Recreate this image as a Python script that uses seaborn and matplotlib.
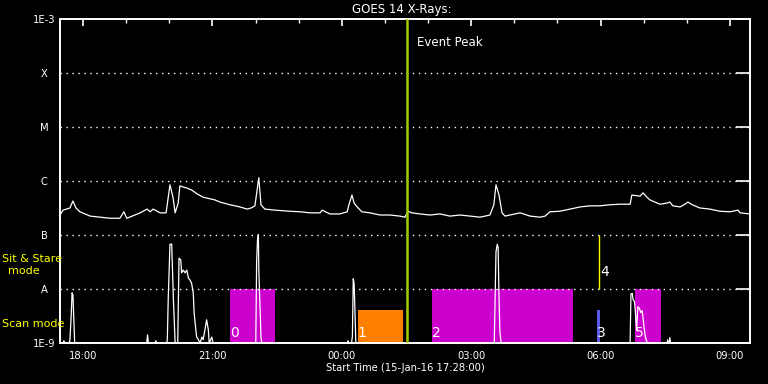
import numpy as np
import pandas as pd
import matplotlib
matplotlib.use("Agg")
import matplotlib.pyplot as plt
import matplotlib.dates as mdates
from matplotlib.ticker import NullLocator
import seaborn as sns

# ---------------- data ----------------
start_time = "2016-01-15 17:28:00"
span_hours = 16.0

# long-wavelength channel (hours since start, log10 flux W/m^2)
long_t = [0.00, 0.07, 0.23, 0.30, 0.37, 0.46, 0.70, 0.93, 1.16, 1.39, 1.48, 1.55,
          1.86, 2.02, 2.09, 2.16, 2.32, 2.46, 2.55, 2.62, 2.67, 2.74, 2.78, 2.85,
          2.94, 3.06, 3.18, 3.32, 3.48, 3.59, 3.71, 3.94, 4.17, 4.34, 4.43, 4.52,
          4.57, 4.61, 4.66, 4.75, 4.99, 5.33, 5.57, 5.80, 6.03, 6.08, 6.26, 6.49,
          6.66, 6.70, 6.77, 6.82, 6.89, 7.00, 7.19, 7.42, 7.65, 7.88, 8.00, 8.07,
          8.16, 8.35, 8.58, 8.81, 9.04, 9.28, 9.51, 9.74, 9.97, 10.06, 10.11, 10.18,
          10.25, 10.32, 10.43, 10.67, 10.90, 11.13, 11.25, 11.36, 11.59, 11.83, 12.06,
          12.29, 12.52, 12.75, 12.99, 13.22, 13.26, 13.45, 13.52, 13.61, 13.68, 13.91,
          14.07, 14.14, 14.21, 14.38, 14.49, 14.56, 14.66, 14.84, 15.07, 15.30, 15.54,
          15.72, 15.77, 16.00]
long_lg = [-6.63, -6.54, -6.50, -6.37, -6.50, -6.57, -6.65, -6.67, -6.69, -6.69, -6.57, -6.69,
           -6.59, -6.52, -6.57, -6.52, -6.59, -6.59, -6.07, -6.30, -6.59, -6.41, -6.09, -6.11,
           -6.13, -6.17, -6.24, -6.30, -6.33, -6.35, -6.39, -6.44, -6.48, -6.52, -6.50, -6.46,
           -6.17, -5.94, -6.44, -6.52, -6.54, -6.56, -6.57, -6.59, -6.59, -6.54, -6.61, -6.61,
           -6.57, -6.44, -6.26, -6.41, -6.48, -6.57, -6.59, -6.63, -6.63, -6.65, -6.67, -6.56,
           -6.59, -6.61, -6.63, -6.61, -6.65, -6.63, -6.65, -6.67, -6.63, -6.44, -6.07, -6.26,
           -6.59, -6.65, -6.63, -6.59, -6.65, -6.67, -6.65, -6.57, -6.56, -6.52, -6.48,
           -6.46, -6.46, -6.44, -6.43, -6.43, -6.26, -6.28, -6.22, -6.30, -6.35, -6.43,
           -6.41, -6.39, -6.46, -6.48, -6.43, -6.39, -6.44, -6.50, -6.52, -6.56, -6.57,
           -6.54, -6.59, -6.61]

# short-wavelength channel
short_t = [0.00, 0.08, 0.09, 0.10, 0.22, 0.23, 0.26, 0.28, 0.30, 0.32, 0.34,
           2.01, 2.03, 2.05, 2.21, 2.22, 2.23, 2.48, 2.49, 2.51, 2.55, 2.59, 2.63, 2.67,
           2.73, 2.76, 2.80, 2.82, 2.86, 2.90, 2.94, 2.98, 3.01, 3.05, 3.09, 3.11, 3.15,
           3.17, 3.21, 3.25, 3.29, 3.32, 3.36, 3.40, 3.44, 3.46, 3.52, 3.55,
           4.54, 4.56, 4.58, 4.60, 4.61, 4.64, 4.66, 4.68,
           6.67, 6.68, 6.69, 6.76, 6.78, 6.80, 6.82, 6.84, 6.86,
           10.07, 10.11, 10.14, 10.16, 10.18, 10.20, 10.23,
           13.22, 13.24, 13.27, 13.29, 13.32, 13.33, 13.35, 13.37, 13.40, 13.43, 13.47,
           13.50, 13.53, 13.55, 13.58, 13.62,
           14.08, 14.09, 14.11, 14.13, 14.14, 14.16, 16.00]
short_lg = [-9.00, -9.00, -8.96, -9.00, -9.00, -8.94, -8.48, -8.07, -8.11, -8.55, -9.00,
            -9.00, -8.85, -9.00, -9.00, -8.96, -9.00, -9.00, -8.89, -8.17, -7.17, -7.17, -8.20, -9.00,
            -9.00, -7.43, -7.46, -7.70, -7.65, -7.70, -7.65, -7.80, -7.83, -7.89, -8.07, -8.44, -8.76,
            -8.89, -8.94, -9.00, -8.89, -8.94, -8.76, -8.57, -8.76, -9.00, -8.89, -9.00,
            -9.00, -7.48, -7.09, -6.99, -7.65, -8.39, -8.89, -9.00,
            -9.00, -8.96, -9.00, -9.00, -8.88, -7.81, -7.90, -8.42, -9.00,
            -9.00, -7.31, -7.17, -7.24, -8.17, -8.79, -9.00,
            -9.00, -8.09, -8.08, -8.20, -8.23, -8.30, -8.51, -8.76, -8.33, -8.35, -8.44,
            -8.40, -8.61, -8.76, -8.91, -9.00,
            -9.00, -8.94, -9.00, -9.00, -8.90, -9.00, -9.00]

# observation boxes (hours since start, top flux)
box_labels = ["0", "1", "2", "3", "5"]
box_start = [3.94, 6.90, 8.63, 12.45, 13.33]
box_end = [4.99, 7.95, 11.89, 12.52, 13.93]
box_top = [1e-8, 4.1e-9, 1e-8, 4.1e-9, 1e-8]
box_colors = ["#cc00cc", "#ff8000", "#cc00cc", "#5a5ae6", "#cc00cc"]

sitstare_label = "4"
sitstare_t = 12.51
sitstare_range = [1e-8, 1e-7]

event_peak_t = 8.05

ytick_vals = [1e-9, 1e-8, 1e-7, 1e-6, 1e-5, 1e-4, 1e-3]
ytick_labels = ["1E-9", "A", "B", "C", "M", "X", "1E-3"]
grid_levels = [1e-8, 1e-7, 1e-6, 1e-5, 1e-4]

# ---------------- helpers ----------------
t0 = pd.Timestamp(start_time)


def to_time(hours):
    return t0 + pd.to_timedelta(np.round(np.asarray(hours, dtype=float) * 3600), unit="s")


long_df = pd.DataFrame({"time": to_time(long_t), "flux": 10.0 ** np.array(long_lg)})
short_df = pd.DataFrame({"time": to_time(short_t), "flux": 10.0 ** np.array(short_lg)})

# ---------------- plot ----------------
sns.set_style("dark")
plt.rcParams["font.family"] = ["DejaVu Sans"]

fig = plt.figure(figsize=(7.68, 3.84), dpi=100, facecolor="black")
ax = fig.add_axes([60 / 768, 41 / 384, 690 / 768, 324 / 384])
ax.set_facecolor("black")
ax.set_yscale("log")
ax.set_ylim(1e-9, 1e-3)
ax.set_xlim(to_time(0.0), to_time(span_hours))

# boxes
for lab, s, e, top, c in zip(box_labels, box_start, box_end, box_top, box_colors):
    ax.fill_between(to_time([s, e]), 1e-9, top, color=c, lw=0, zorder=1)
    ax.text(to_time(s), 10 ** -8.81, lab, color="white", fontsize=10,
            ha="left", va="center", zorder=5)

ax.vlines(to_time(sitstare_t), sitstare_range[0], sitstare_range[1],
          color="yellow", lw=1.0, zorder=2)
ax.text(to_time(sitstare_t + 0.03), 10 ** -7.685, sitstare_label, color="white",
        fontsize=10, ha="left", va="center", zorder=5)

# grid
for g in grid_levels:
    ax.axhline(g, color="white", lw=1.0, ls=(0, (1, 3.3)), zorder=1.5)

# curves
sns.lineplot(data=long_df, x="time", y="flux", ax=ax, color="white", lw=0.9,
             estimator=None, sort=False, zorder=3)
sns.lineplot(data=short_df, x="time", y="flux", ax=ax, color="white", lw=0.9,
             estimator=None, sort=False, zorder=3)

# event peak
ax.axvline(to_time(event_peak_t), color="#a0cc00", lw=1.8, zorder=4)
ax.annotate("Event Peak", xy=(to_time(event_peak_t), 10 ** -3.44), xytext=(7, 0),
            textcoords="offset points", color="white", fontsize=8.5, va="center", ha="left")

# axes styling
for sp in ax.spines.values():
    sp.set_color("white")
    sp.set_linewidth(1.4)
    sp.set_visible(True)

ax.set_yticks(ytick_vals)
ax.set_yticklabels(ytick_labels)
ax.yaxis.set_minor_locator(NullLocator())
for lbl in ax.get_yticklabels():
    lbl.set_ha("center")

ax.xaxis.set_major_locator(mdates.HourLocator(byhour=range(0, 24, 3)))
ax.xaxis.set_minor_locator(mdates.HourLocator())
ax.xaxis.set_major_formatter(mdates.DateFormatter("%H:%M"))

ax.tick_params(axis="both", which="both", direction="in", colors="white",
               top=True, right=True, labelsize=7.2)
ax.tick_params(axis="x", which="major", length=5, width=1.2, pad=6)
ax.tick_params(axis="x", which="minor", length=3, width=1.0)
ax.tick_params(axis="y", which="major", length=10, width=1.2, pad=11.5)
ax.set_xlabel("")
ax.set_ylabel("")
ax.grid(False)

fig.text(402 / 768, 1 - 10 / 384, "GOES 14 X-Rays:", color="white", fontsize=8.5,
         ha="center", va="center")
fig.text(405 / 768, 1 - 368 / 384, "Start Time (15-Jan-16 17:28:00)", color="white",
         fontsize=7.2, ha="center", va="center")
fig.text(2 / 768, 1 - 259 / 384, "Sit & Stare", color="yellow", fontsize=8,
         ha="left", va="center")
fig.text(24 / 768, 1 - 271 / 384, "mode", color="yellow", fontsize=8,
         ha="center", va="center")
fig.text(2 / 768, 1 - 324 / 384, "Scan mode", color="yellow", fontsize=8,
         ha="left", va="center")

fig.savefig("out.png", dpi=100, facecolor="black")
